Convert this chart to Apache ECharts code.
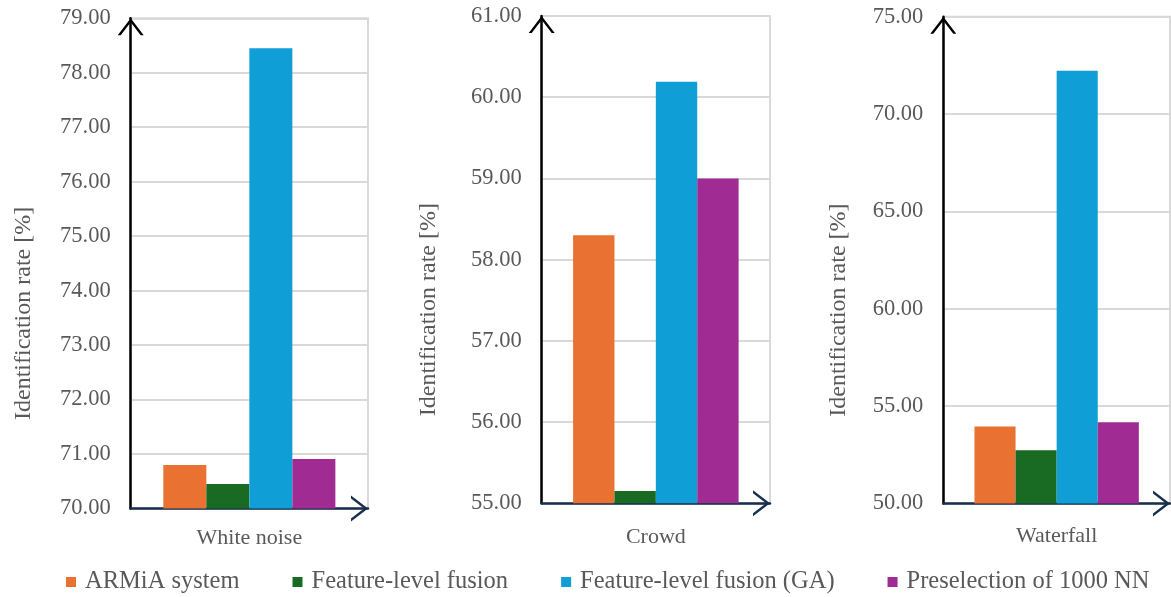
<!DOCTYPE html>
<html>
<head>
<meta charset="utf-8">
<script src="https://cdn.jsdelivr.net/npm/echarts@6/dist/echarts.min.js"></script>
<style>
  html, body { margin: 0; padding: 0; background: #ffffff; }
  #chart { width: 1171px; height: 597px; }
</style>
</head>
<body>
<div id="chart"></div>
<script>
// Noise scenarios, one panel each
const scenarios = ['White noise', 'Crowd', 'Waterfall'];

// Identification rate [%] per method, one value per scenario
const armiaSystem = [70.80, 58.30, 53.95];
const featureFusion = [70.45, 55.15, 52.74];
const featureFusionGA = [78.45, 60.19, 72.22];
const preselection1000 = [70.91, 59.00, 54.17];

const methodNames = ['ARMiA system', 'Feature-level fusion', 'Feature-level fusion (GA)', 'Preselection of 1000 NN'];

// Value-axis ranges for each panel
const axisMin = [70, 55, 50];
const axisMax = [79, 61, 75];
const axisStep = [1, 1, 5];

const methodValues = [armiaSystem, featureFusion, featureFusionGA, preselection1000];
const methodColors = ['#E97132', '#196B24', '#0F9ED5', '#A02B93'];

const FONT = "'Liberation Serif', 'Times New Roman', serif";
const TEXT_GREY = '#595959';

// Open chevron arrowhead used at the end of each axis line
const chevron = 'path://M13,0 L26,17 L23,17 L13,4 L3,17 L0,17 Z';

const panelBoxes = [
  { left: 130.7, right: 803, top: 18.3, bottom: 88.5, nameGap: 95, catMargin: 19 },
  { left: 541.7, right: 401, top: 16, bottom: 93.7, nameGap: 101, catMargin: 23 },
  { left: 943.3, right: 1, top: 16.7, bottom: 93.5, nameGap: 93, catMargin: 22 }
];

const grid = panelBoxes.map(b => ({
  left: b.left, right: b.right, top: b.top, bottom: b.bottom,
  containLabel: false,
  outerBoundsMode: 'none',
  show: true,
  borderColor: '#d9d9d9',
  borderWidth: 2,
  backgroundColor: 'transparent'
}));

const xAxis = scenarios.map((s, i) => ({
  type: 'category',
  gridIndex: i,
  data: [s],
  axisTick: { show: false },
  axisLine: {
    show: true,
    lineStyle: { color: '#172f4d', width: 2.5 },
    symbol: ['none', chevron],
    symbolSize: [26, 17],
    symbolOffset: [0, -8.5]
  },
  axisLabel: { fontFamily: FONT, fontSize: 22, color: TEXT_GREY, margin: panelBoxes[i].catMargin },
  splitLine: { show: false }
}));

const yAxis = scenarios.map((s, i) => ({
  type: 'value',
  gridIndex: i,
  min: axisMin[i],
  max: axisMax[i],
  interval: axisStep[i],
  name: 'Identification rate [%]',
  nameLocation: 'middle',
  nameRotate: 90,
  nameGap: panelBoxes[i].nameGap,
  nameTextStyle: { fontFamily: FONT, fontSize: 24, color: TEXT_GREY, padding: [0, 100, 0, 0] },
  axisTick: { show: false },
  axisLine: {
    show: true,
    lineStyle: { color: '#000000', width: 2.5 },
    symbol: ['none', chevron],
    symbolSize: [26, 17],
    symbolOffset: [0, -8.5]
  },
  axisLabel: {
    fontFamily: FONT, fontSize: 22.5, color: TEXT_GREY, margin: 20,
    formatter: v => v.toFixed(2)
  },
  splitLine: { show: true, lineStyle: { color: '#d9d9d9', width: 2 } }
}));

const series = [];
scenarios.forEach((s, i) => {
  methodNames.forEach((name, m) => {
    series.push({
      name: name,
      type: 'bar',
      xAxisIndex: i,
      yAxisIndex: i,
      data: [methodValues[m][i]],
      barGap: '0%',
      barCategoryGap: '27.5%',
      itemStyle: { color: methodColors[m] },
      emphasis: { disabled: true }
    });
  });
});

const chart = echarts.init(document.getElementById('chart'), null, { renderer: 'canvas' });
chart.setOption({
  animation: false,
  backgroundColor: '#ffffff',
  color: methodColors,
  legend: {
    data: methodNames,
    left: 66,
    top: 569.5,
    padding: 0,
    icon: 'rect',
    itemWidth: 10,
    itemHeight: 10,
    itemGap: 53,
    textStyle: { fontFamily: FONT, fontSize: 24.5, color: TEXT_GREY, padding: [0, 0, 0, 4] }
  },
  grid: grid,
  xAxis: xAxis,
  yAxis: yAxis,
  series: series
});
</script>
</body>
</html>
